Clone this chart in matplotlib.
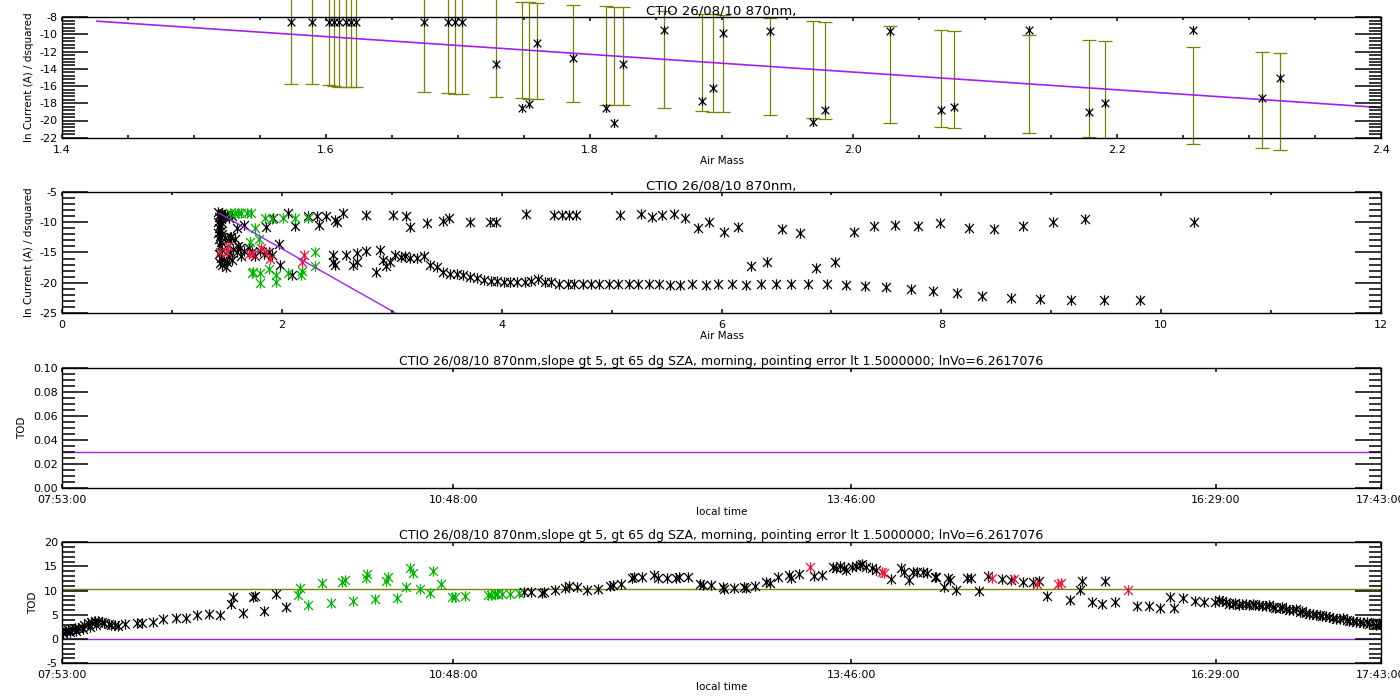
import matplotlib
matplotlib.use("Agg")
import matplotlib.pyplot as plt
from matplotlib.path import Path
from matplotlib.ticker import MultipleLocator, FormatStrFormatter, FixedLocator, NullLocator
import numpy as np

plt.rcParams['axes.unicode_minus'] = False
plt.rcParams['font.family'] = ['DejaVu Sans']

# ---------------- DATA ----------------
title_short = "CTIO 26/08/10 870nm,"
title_long = ("CTIO 26/08/10 870nm,slope gt 5, gt 65 dg SZA, morning, "
              "pointing error lt 1.5000000; lnVo=6.2617076")

# Panel 1: ln current vs air mass, with error bars centred on the fit
p1_x = [1.5734, 1.5893, 1.6027, 1.6065, 1.6103, 1.6151, 1.6189, 1.6226,
        1.6744, 1.6929, 1.6980, 1.7030, 1.7290, 1.7490, 1.7543, 1.7599,
        1.7877, 1.8122, 1.8185, 1.8251, 1.8567, 1.8850, 1.8933, 1.9013,
        1.9368, 1.9691, 1.9786, 2.0274, 2.0664, 2.0765, 2.1328, 2.1784,
        2.1905, 2.2571, 2.3097, 2.3235]
p1_y = [-8.54, -8.54, -8.54, -8.54, -8.54, -8.54, -8.54, -8.54,
        -8.54, -8.54, -8.54, -8.54, -13.38, -18.60, -18.09, -10.94,
        -12.68, -18.60, -20.34, -13.38, -9.43, -17.74, -16.20, -9.78,
        -9.59, -20.14, -18.79, -9.59, -18.79, -18.40, -9.43, -19.06,
        -18.02, -9.43, -17.44, -15.00]
p1_lo = [-15.70, -15.81, -15.93, -15.97, -16.08, -16.12, -16.12, -16.16,
         -16.74, -16.86, -16.93, -16.93, -17.32, -17.44, -17.55, -17.55,
         -17.90, -18.17, -18.25, -18.25, -18.60, -18.90, -18.98, -19.06,
         -19.41, -19.76, -19.87, -20.34, -20.80, -20.92, -21.50, -21.96,
         -22.08, -22.77, -23.24, -23.47]
p1_hi = [-4.2, -4.3, -4.4, -4.4, -4.5, -4.5, -4.6, -4.6,
         -5.2, -5.4, -5.4, -5.5, -5.8, -6.22, -6.26, -6.30,
         -6.53, -6.72, -6.84, -6.84, -7.23, -7.57, -7.60, -7.77,
         -8.04, -8.43, -8.54, -8.97, -9.43, -9.55, -10.09, -10.59,
         -10.71, -11.40, -12.02, -12.10]
fit1_x = [1.4265, 2.4]
fit1_y = [-8.45, -18.5]

# Panel 2: ln current vs air mass, all points
p2_black_x = [1.42, 1.44, 1.46, 1.48, 1.43, 1.45, 1.47, 1.50, 1.52, 1.55,
              1.42, 1.44, 1.46, 1.43, 1.45, 1.42, 1.44, 1.46, 1.43, 1.45,
              1.48, 1.51, 1.54, 1.57, 1.44, 1.46, 1.43, 1.45, 1.47, 1.44,
              1.46, 1.49, 1.50, 1.52, 1.55, 1.53, 1.56, 1.59, 1.62, 1.63,
              1.66, 1.70, 1.73, 1.76, 1.80, 1.84, 1.88, 1.91, 1.53, 1.60,
              1.59, 1.66, 1.86, 1.92, 2.06, 2.12, 2.24, 2.32, 2.34, 2.40,
              2.48, 2.50, 2.56, 2.77, 3.01, 3.13, 3.17, 3.32, 3.47, 3.52,
              3.71, 3.89, 3.95, 4.22, 4.48, 4.55, 4.61, 4.68, 5.08, 5.27,
              5.37, 5.46, 5.57, 5.67, 5.79, 5.89, 6.02, 6.15, 6.55, 6.71,
              7.21, 7.39, 7.58, 7.79, 7.99, 8.25, 8.48, 8.74, 9.02, 9.31,
              10.30,
              1.97, 1.98, 2.09, 2.47, 2.47, 2.48, 2.58, 2.65, 2.68, 2.68,
              2.77, 2.86, 2.89, 2.92, 2.95, 2.98, 3.03, 3.08, 3.12, 3.17,
              3.23, 3.29, 3.35, 3.41, 3.47, 3.53, 3.59, 3.65, 3.71, 3.78,
              3.84, 3.90, 3.96, 4.02, 4.08, 4.14, 4.21, 4.27, 4.33, 4.39,
              4.45, 4.52, 4.60, 4.66, 4.74, 4.81, 4.89, 4.98, 5.06, 5.16,
              5.24, 5.34, 5.43, 5.53, 5.62, 5.73, 5.86, 5.97, 6.10, 6.22,
              6.36, 6.50, 6.63, 6.79, 6.96, 7.13, 7.31, 7.50, 7.72, 7.92,
              8.14, 8.37, 8.63, 8.90, 9.18, 9.48, 9.81,
              6.27, 6.41, 6.86, 7.03]
p2_black_y = [-8.3, -8.6, -8.4, -8.8, -9.1, -9.4, -9.0, -8.7, -9.3, -9.0,
              -9.9, -10.4, -10.1, -10.9, -11.4, -11.8, -12.3, -12.0, -12.8, -13.3,
              -12.6, -12.9, -12.4, -12.7, -14.0, -14.6, -15.3, -15.9, -16.3, -16.8,
              -17.1, -17.4, -16.6, -15.8, -16.2, -15.1, -14.5, -14.9, -14.2, -15.5,
              -14.8, -14.3, -15.0, -15.6, -14.7, -15.3, -14.9, -15.4, -12.4, -14.0,
              -11.0, -10.4, -10.7, -9.2, -8.4, -10.6, -8.9, -9.0, -10.4, -9.0,
              -9.6, -9.9, -8.4, -8.7, -8.7, -9.0, -10.8, -10.1, -9.7, -9.3,
              -10.0, -10.0, -10.0, -8.65, -8.77, -8.77, -8.77, -8.77, -8.77, -8.65,
              -9.04, -8.77, -8.65, -9.32, -10.98, -9.98, -11.64, -10.81, -11.15, -11.81,
              -11.53, -10.59, -10.43, -10.59, -10.04, -10.98, -11.15, -10.59, -9.98, -9.43,
              -9.98,
              -13.6, -17.1, -18.7, -15.4, -16.5, -17.1, -15.4, -17.1, -16.5, -15.1,
              -14.7, -18.3, -14.6, -16.2, -17.3, -16.5, -15.4, -15.7, -15.6, -15.9,
              -15.9, -15.6, -17.1, -17.4, -18.2, -18.5, -18.5, -18.7, -19.0, -19.3,
              -19.5, -19.7, -19.8, -19.95, -19.95, -19.84, -19.84, -19.73, -19.40, -19.84,
              -19.95, -20.2, -20.2, -20.28, -20.3, -20.3, -20.3, -20.3, -20.3, -20.3,
              -20.3, -20.3, -20.3, -20.45, -20.35, -20.2, -20.35, -20.3, -20.3, -20.35,
              -20.3, -20.3, -20.3, -20.3, -20.3, -20.35, -20.6, -20.8, -21.06, -21.39,
              -21.78, -22.22, -22.61, -22.77, -22.88, -22.88, -22.88,
              -17.24, -16.52, -17.62, -16.52]
p2_green_x = [1.53, 1.57, 1.60, 1.63, 1.68, 1.72, 1.76, 1.71, 1.79, 1.85,
              1.91, 2.01, 2.12, 2.24, 2.30, 2.30, 1.73, 1.74, 1.80, 1.88,
              1.95, 2.06, 2.17, 2.18, 1.80, 1.95]
p2_green_y = [-8.4, -8.4, -8.5, -8.4, -8.5, -8.4, -10.9, -13.3, -12.75, -9.2,
              -9.4, -9.3, -9.2, -9.2, -15.0, -17.3, -18.45, -18.2, -18.45, -17.7,
              -18.7, -18.45, -18.7, -18.0, -20.1, -19.95]
p2_red_x = [1.44, 1.50, 1.51, 1.70, 1.74, 1.81, 1.86, 1.89, 2.18, 2.20]
p2_red_y = [-15.0, -15.0, -13.9, -15.3, -15.3, -14.2, -15.0, -16.1, -16.6, -15.4]
fit2_x = [1.4265, 3.03]
fit2_y = [-8.45, -25.0]

# Time axis (panels 3 and 4)
time_ticks = ["07:53:00", "10:48:00", "13:46:00", "16:29:00", "17:43:00"]

# Panel 3: TOD constant
p3_tod = 0.03

# Panel 4: TOD vs local time (decimal hours)
p4_black_t = [7.88, 7.89, 7.91, 7.93, 7.94, 7.96, 7.98, 7.99, 8.00, 8.03,
              8.04, 8.05, 8.08, 8.09, 8.10, 8.13, 8.14, 8.15, 8.18, 8.20,
              8.23, 8.25, 8.28, 8.30, 8.35, 8.44, 8.48, 8.56, 8.64, 8.73,
              8.81, 8.89, 8.98, 9.06, 9.14, 9.16, 9.23, 9.31, 9.32, 9.39,
              9.48, 9.55,
              11.33, 11.38, 11.46, 11.48, 11.56, 11.63, 11.66, 11.72, 11.80, 11.88,
              11.97, 11.99, 12.05, 12.13, 12.15, 12.21, 12.30, 12.33, 12.39, 12.46,
              12.48, 12.55, 12.64, 12.66, 12.72, 12.81, 12.82, 12.89, 12.97, 12.98,
              13.05, 13.13, 13.16, 13.22, 13.30, 13.32, 13.38, 13.49, 13.55, 13.63,
              13.65, 13.68, 13.71, 13.73, 13.77, 13.80, 13.83, 13.85, 13.88, 13.92,
              13.95, 14.06, 14.14, 14.16, 14.20, 14.23, 14.26, 14.30, 14.33, 14.40,
              14.39, 14.46, 14.49, 14.50, 14.55, 14.63, 14.66, 14.72, 14.79, 14.89,
              14.96, 15.05, 15.12, 15.17, 15.23, 15.40, 15.47, 15.49, 15.56, 15.64,
              15.66, 15.73, 15.90, 15.99, 16.07, 16.14, 16.17, 16.24, 16.33, 16.40,
              16.48, 16.51,
              16.53, 16.56, 16.58, 16.61, 16.63, 16.66, 16.68, 16.71, 16.73, 16.76,
              16.78, 16.81, 16.83, 16.86, 16.88, 16.91, 16.93, 16.96, 16.98, 17.01,
              17.03, 17.06, 17.08, 17.11, 17.13, 17.16, 17.18, 17.21, 17.23, 17.26,
              17.28, 17.31, 17.33, 17.36, 17.38, 17.41, 17.43, 17.46, 17.48, 17.51,
              17.53, 17.56, 17.58, 17.61, 17.63, 17.66, 17.68, 17.71, 17.70]
p4_black_y = [1.54, 1.2, 1.68, 1.89, 1.4, 2.09, 2.23, 1.68, 2.37, 2.58,
              2.1, 2.92, 3.26, 2.6, 3.6, 3.75, 2.9, 3.82, 3.47, 3.26,
              3.06, 2.92, 2.92, 2.78, 3.06, 3.26, 3.26, 3.47, 4.09, 4.3,
              4.44, 4.99, 5.12, 4.99, 7.26, 8.77, 5.47, 8.77, 8.98, 5.81,
              9.33, 6.71,
              9.67, 9.81, 9.6, 9.81, 10.15, 10.63, 11.05, 10.84, 10.15, 10.36,
              10.98, 11.18, 11.32, 12.7, 12.91, 12.91, 13.25, 12.7, 12.56, 12.7,
              12.91, 12.77, 11.39, 11.18, 11.18, 10.84, 10.36, 10.63, 10.84, 10.5,
              11.05, 11.74, 11.53, 12.77, 13.25, 12.56, 13.39, 13.11, 13.25, 14.97,
              14.63, 15.18, 14.77, 14.28, 14.97, 15.18, 15.32, 15.46, 14.97, 14.63,
              14.28, 12.42, 14.63, 13.94, 12.22, 13.94, 13.8, 13.94, 13.73, 12.91,
              12.77, 10.84, 12.7, 12.22, 10.15, 12.56, 12.7, 10.01, 13.11, 12.42,
              12.22, 11.74, 11.74, 12.01, 8.98, 8.09, 10.15, 12.01, 7.6, 7.26,
              12.01, 7.74, 6.85, 6.85, 6.36, 8.64, 6.36, 8.43, 7.95, 7.6,
              7.74, 8.09,
              7.9, 7.6, 7.3, 7.19, 7.4, 7.05, 7.3, 7.19, 7.0, 7.26,
              7.1, 7.05, 6.8, 6.91, 7.1, 6.71, 6.5, 6.5, 6.7, 6.23,
              6.0, 6.02, 6.2, 5.67, 5.9, 5.47, 5.2, 5.19, 5.0, 4.99,
              4.7, 4.78, 4.5, 4.44, 4.2, 4.16, 4.3, 3.95, 3.8, 3.75,
              3.5, 3.61, 3.3, 3.47, 3.2, 3.26, 3.0, 3.06, 3.4]
p4_green_t = [9.64, 9.66, 9.72, 9.82, 9.89, 9.97, 9.99, 10.05, 10.15, 10.16,
              10.22, 10.30, 10.31, 10.38, 10.45, 10.48, 10.50, 10.55, 10.63, 10.65,
              10.71, 10.79, 10.81, 10.89, 11.06, 11.08, 11.11, 11.13, 11.16, 11.22,
              11.29]
p4_green_y = [9.12, 10.5, 7.05, 11.53, 7.4, 11.87, 12.22, 7.88, 12.56, 13.46,
              8.29, 12.0, 12.91, 8.43, 10.7, 14.63, 13.6, 10.36, 9.6, 14.15,
              11.39, 8.77, 8.77, 8.91, 9.12, 9.12, 9.26, 9.26, 9.26, 9.26,
              9.46]
p4_red_t = [13.46, 14.00, 14.01, 14.82, 14.98, 15.15, 15.31, 15.33, 15.83]
p4_red_y = [14.97, 13.94, 13.6, 12.7, 12.36, 11.32, 11.32, 11.67, 10.15]
p4_mean_tod = 10.3
p4_zero = 0.0

# ---------------- STYLE ----------------
PURPLE = '#a020f0'
OLIVE = '#808000'
GREEN = '#00b400'
RED = '#e8193c'

ast = Path([(0, -1), (0, 1), (-0.85, -0.85), (0.85, 0.85), (-0.85, 0.85), (0.85, -0.85)],
           [Path.MOVETO, Path.LINETO, Path.MOVETO, Path.LINETO, Path.MOVETO, Path.LINETO])


def hms_to_h(s):
    h, m, sec = [int(v) for v in s.split(':')]
    return h + m / 60.0 + sec / 3600.0


def finish_ticks(ax):
    ax.tick_params(axis='y', which='major', direction='in', length=18.5, width=1.1,
                   color='black', left=True, right=True, labelsize=8, pad=3)
    ax.tick_params(axis='y', which='minor', direction='in', length=9, width=1.1,
                   color='black', left=True, right=True)
    ax.tick_params(axis='x', which='major', direction='in', length=3, width=1.1,
                   color='black', top=True, bottom=True, labelsize=8, pad=5)
    ax.tick_params(axis='x', which='minor', direction='in', length=2, width=1.1,
                   color='black', top=True, bottom=True)
    for sp in ax.spines.values():
        sp.set_linewidth(1.0)
    ax.set_axisbelow(False)
    for axis in (ax.xaxis, ax.yaxis):
        axis.set_zorder(6)
        for t in axis.get_major_ticks() + axis.get_minor_ticks():
            t.tick1line.set_antialiased(False)
            t.tick2line.set_antialiased(False)
            t.tick1line.set_zorder(6)
            t.tick2line.set_zorder(6)


def scatter(ax, x, y, color, ms=7.5):
    ax.plot(x, y, linestyle='none', marker=ast, markersize=ms, markerfacecolor='none',
            markeredgecolor=color, markeredgewidth=0.9, zorder=4)


fig = plt.figure(figsize=(14, 7), dpi=100)
L = 62 / 1400.0
W = 1319 / 1400.0
ax1 = fig.add_axes([L, 1 - 137.7 / 700, W, 120.4 / 700])
ax2 = fig.add_axes([L, 1 - 312.7 / 700, W, 120.4 / 700])
ax3 = fig.add_axes([L, 1 - 488.3 / 700, W, 120.6 / 700])
ax4 = fig.add_axes([L, 1 - 663.3 / 700, W, 121.0 / 700])

# ---- Panel 1 ----
lo = np.array(p1_lo)
hi = np.array(p1_hi)
cen = (lo + hi) / 2.0
half = (hi - lo) / 2.0
eb = ax1.errorbar(p1_x, cen, yerr=half, fmt='none', ecolor=OLIVE, elinewidth=0.9,
                  capsize=5, capthick=0.9, zorder=2)
for art in list(eb.lines[1]) + list(eb.lines[2]):
    art.set_clip_on(False)
ax1.plot(fit1_x, fit1_y, color=PURPLE, linewidth=1.2, zorder=3)
scatter(ax1, p1_x, p1_y, 'black', ms=6.5)
ax1.set_xlim(1.4, 2.4)
ax1.set_ylim(-22, -8)
ax1.xaxis.set_major_locator(MultipleLocator(0.2))
ax1.xaxis.set_minor_locator(MultipleLocator(0.05))
ax1.yaxis.set_major_locator(MultipleLocator(2))
ax1.yaxis.set_minor_locator(MultipleLocator(0.4))
ax1.xaxis.set_major_formatter(FormatStrFormatter('%.1f'))
ax1.yaxis.set_major_formatter(FormatStrFormatter('%d'))
ax1.set_title(title_short, fontsize=9.5, pad=1.5)
ax1.set_xlabel("Air Mass", fontsize=7.5, labelpad=1)
ax1.set_ylabel("ln Current (A) / dsquared", fontsize=7.5, labelpad=4)
finish_ticks(ax1)

# ---- Panel 2 ----
scatter(ax2, p2_black_x, p2_black_y, 'black')
scatter(ax2, p2_green_x, p2_green_y, GREEN)
scatter(ax2, p2_red_x, p2_red_y, RED)
ax2.plot(fit2_x, fit2_y, color=PURPLE, linewidth=1.0, zorder=5)
ax2.set_xlim(0, 12)
ax2.set_ylim(-25, -5)
ax2.xaxis.set_major_locator(MultipleLocator(2))
ax2.xaxis.set_minor_locator(MultipleLocator(1))
ax2.yaxis.set_major_locator(MultipleLocator(5))
ax2.yaxis.set_minor_locator(MultipleLocator(1))
ax2.xaxis.set_major_formatter(FormatStrFormatter('%d'))
ax2.yaxis.set_major_formatter(FormatStrFormatter('%d'))
ax2.set_title(title_short, fontsize=9.5, pad=2)
ax2.set_xlabel("Air Mass", fontsize=7.5, labelpad=1)
ax2.set_ylabel("ln Current (A) / dsquared", fontsize=7.5, labelpad=4)
finish_ticks(ax2)

tick_h = [hms_to_h(s) for s in time_ticks]

# ---- Panel 3 ----
ax3.axhline(p3_tod, color=PURPLE, linewidth=1.0)
ax3.set_xlim(tick_h[0], tick_h[-1])
ax3.set_ylim(0, 0.10)
ax3.xaxis.set_major_locator(FixedLocator(tick_h))
ax3.xaxis.set_minor_locator(NullLocator())
ax3.set_xticklabels(time_ticks)
ax3.yaxis.set_major_locator(MultipleLocator(0.02))
ax3.yaxis.set_minor_locator(MultipleLocator(0.005))
ax3.yaxis.set_major_formatter(FormatStrFormatter('%.2f'))
ax3.set_title(title_long, fontsize=9, pad=2)
ax3.set_xlabel("local time", fontsize=7.5, labelpad=1)
ax3.set_ylabel("TOD", fontsize=7.5, labelpad=4)
finish_ticks(ax3)

# ---- Panel 4 ----
ax4.axhline(p4_mean_tod, color=OLIVE, linewidth=1.0, zorder=2)
ax4.axhline(p4_zero, color=PURPLE, linewidth=1.0, zorder=2)
scatter(ax4, p4_black_t, p4_black_y, 'black')
scatter(ax4, p4_green_t, p4_green_y, GREEN)
scatter(ax4, p4_red_t, p4_red_y, RED)
ax4.set_xlim(tick_h[0], tick_h[-1])
ax4.set_ylim(-5, 20)
ax4.xaxis.set_major_locator(FixedLocator(tick_h))
ax4.xaxis.set_minor_locator(NullLocator())
ax4.set_xticklabels(time_ticks)
ax4.yaxis.set_major_locator(MultipleLocator(5))
ax4.yaxis.set_minor_locator(MultipleLocator(1))
ax4.yaxis.set_major_formatter(FormatStrFormatter('%d'))
ax4.set_title(title_long, fontsize=9, pad=2)
ax4.set_xlabel("local time", fontsize=7.5, labelpad=1)
ax4.set_ylabel("TOD", fontsize=7.5, labelpad=4)
finish_ticks(ax4)

fig.savefig("out.png", dpi=100)
